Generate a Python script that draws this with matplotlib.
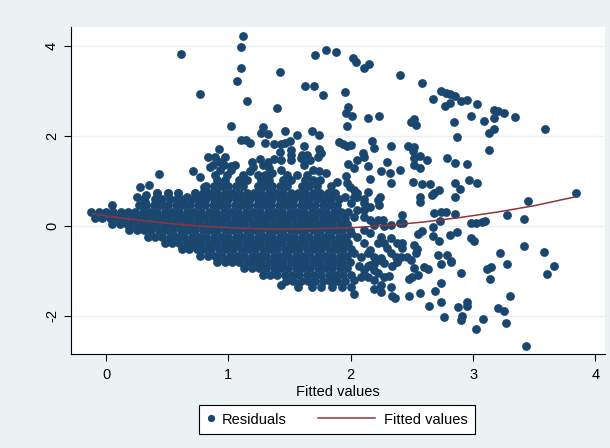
import numpy as np
import matplotlib
matplotlib.use('Agg')
from matplotlib import pyplot as plt
from matplotlib.lines import Line2D
from matplotlib.legend_handler import HandlerBase

plt.rcParams['font.family'] = ['Liberation Sans', 'DejaVu Sans']

# dense core of the cloud: residual level -> fitted values at that level
core_levels = [-1.36, -1.22, -1.08, -0.94, -0.80, -0.66, -0.52, -0.38, -0.24,
               -0.10, 0.04, 0.18, 0.32, 0.46, 0.60, 0.74, 0.88, 1.02, 1.13]
core_rows = [
    [1.57, 1.68, 1.76, 1.85],
    [1.47, 1.53, 1.59, 1.65, 1.71, 1.77, 1.83, 1.89, 1.95],
    [1.28, 1.34, 1.40, 1.46, 1.52, 1.58, 1.64, 1.70, 1.76, 1.82, 1.88, 1.94, 2.00],
    [1.13, 1.19, 1.25, 1.31, 1.37, 1.43, 1.49, 1.55, 1.61, 1.67, 1.73, 1.79, 1.85, 1.91, 1.97],
    [0.91, 0.97, 1.03, 1.09, 1.15, 1.21, 1.27, 1.33, 1.39, 1.45, 1.51, 1.57, 1.63, 1.69, 1.75,
     1.81, 1.87, 1.93, 1.99],
    [0.77, 0.83, 0.89, 0.95, 1.01, 1.07, 1.13, 1.19, 1.25, 1.31, 1.37, 1.43, 1.49, 1.55, 1.61,
     1.67, 1.73, 1.79, 1.85, 1.91, 1.97],
    [0.62, 0.68, 0.74, 0.80, 0.86, 0.92, 0.98, 1.04, 1.10, 1.16, 1.22, 1.28, 1.34, 1.40, 1.46,
     1.52, 1.58, 1.64, 1.70, 1.76, 1.82, 1.88, 1.94, 2.00],
    [0.48, 0.54, 0.60, 0.66, 0.72, 0.78, 0.84, 0.90, 0.96, 1.02, 1.08, 1.14, 1.20, 1.26, 1.32,
     1.38, 1.44, 1.50, 1.56, 1.62, 1.68, 1.74, 1.80, 1.86, 1.92, 1.98],
    [0.34, 0.40, 0.46, 0.52, 0.58, 0.64, 0.70, 0.76, 0.82, 0.88, 0.94, 1.00, 1.06, 1.12, 1.18,
     1.24, 1.30, 1.36, 1.42, 1.48, 1.54, 1.60, 1.66, 1.72, 1.78, 1.84, 1.90, 1.96],
    [0.19, 0.25, 0.31, 0.37, 0.43, 0.49, 0.55, 0.61, 0.67, 0.73, 0.79, 0.85, 0.91, 0.97, 1.03,
     1.09, 1.15, 1.21, 1.27, 1.33, 1.39, 1.45, 1.51, 1.57, 1.63, 1.69, 1.75, 1.81, 1.87, 1.93, 1.99],
    [0.05, 0.11, 0.17, 0.23, 0.29, 0.35, 0.41, 0.47, 0.53, 0.59, 0.65, 0.71, 0.77, 0.83, 0.89,
     0.95, 1.01, 1.07, 1.13, 1.19, 1.25, 1.31, 1.37, 1.43, 1.49, 1.55, 1.61, 1.67, 1.73, 1.79,
     1.85, 1.91, 1.97],
    [-0.09, -0.03, 0.03, 0.09, 0.15, 0.21, 0.27, 0.33, 0.39, 0.45, 0.51, 0.57, 0.63, 0.69, 0.75,
     0.81, 0.87, 0.93, 0.99, 1.05, 1.11, 1.17, 1.23, 1.29, 1.35, 1.41, 1.47, 1.53, 1.59, 1.65,
     1.71, 1.77, 1.83, 1.89, 1.95],
    [-0.12, -0.06, 0.00, 0.06, 0.12, 0.18, 0.24, 0.30, 0.36, 0.42, 0.48, 0.54, 0.60, 0.66, 0.72,
     0.78, 0.84, 0.90, 0.96, 1.02, 1.08, 1.14, 1.20, 1.26, 1.32, 1.38, 1.44, 1.50, 1.56, 1.62,
     1.68, 1.74, 1.80, 1.86, 1.92, 1.98],
    [0.05, 0.27, 0.33, 0.39, 0.45, 0.51, 0.57, 0.63, 0.69, 0.75, 0.81, 0.87, 0.93, 0.99, 1.05,
     1.11, 1.17, 1.23, 1.29, 1.35, 1.41, 1.47, 1.53, 1.59, 1.65, 1.71, 1.77, 1.83, 1.89],
    [0.31, 0.40, 0.46, 0.52, 0.58, 0.64, 0.70, 0.76, 0.82, 0.88, 0.94, 1.00, 1.06, 1.12, 1.18,
     1.24, 1.30, 1.36, 1.42, 1.48, 1.54, 1.60, 1.66, 1.72, 1.78, 1.84, 1.90],
    [0.42, 0.51, 0.59, 0.73, 0.79, 0.85, 0.91, 0.97, 1.03, 1.09, 1.15, 1.21, 1.27, 1.33, 1.39,
     1.45, 1.51, 1.57, 1.63, 1.69, 1.75, 1.81, 1.87],
    [0.82, 0.88, 0.94, 1.00, 1.06, 1.12, 1.24, 1.30, 1.36, 1.42, 1.48, 1.60, 1.66, 1.72, 1.84],
    [0.91, 0.97, 1.09, 1.15, 1.27, 1.33, 1.45, 1.51, 1.63, 1.69, 1.75],
    [0.99, 1.12, 1.24, 1.30, 1.48, 1.56, 1.64],
]

# scattered residuals above the core
upper_x = [1.12, 1.10, 0.61, 1.10, 1.42, 1.07, 1.63, 1.70, 0.77, 1.77, 1.15, 1.40, 1.71, 1.80,
           1.88, 1.02, 1.28, 1.27, 1.32, 1.46, 1.56, 1.68, 1.74, 1.10, 1.14, 1.18, 1.30, 1.37,
           1.43, 1.46, 1.50, 1.62, 1.74, 1.76, 1.90, 0.92, 0.83, 0.89, 0.97, 1.42, 1.51, 1.60,
           0.43, 0.28, 0.35, 0.71, 0.77, 0.85, 0.93, 0.96, 1.02, 1.05, 1.19, 1.20, 1.26, 1.32,
           1.37, 1.43, 1.02, 0.93, 1.18, 1.28, 1.43, 1.36, 1.33, 1.51, 1.51, 1.59, 1.62, 1.67,
           1.64, 1.73, 1.75, 1.69, 1.74, 1.80, 1.89, 1.96, 1.99, 1.95, 0.87, 0.89, 0.25, 0.32,
           0.33, 0.42, 0.51, 0.59, 0.66, 0.73, 0.80, 1.62]
upper_y = [4.22, 3.98, 3.82, 3.50, 3.41, 3.21, 3.11, 3.11, 2.93, 2.90, 2.78, 2.63, 3.80, 3.91,
           3.87, 2.22, 2.20, 2.06, 2.04, 2.10, 2.03, 2.12, 2.01, 1.90, 1.90, 1.84, 1.85, 1.81,
           1.82, 1.85, 1.88, 1.78, 1.70, 1.63, 1.87, 1.70, 1.54, 1.53, 1.53, 1.64, 1.69, 1.57,
           1.16, 0.87, 0.92, 1.22, 1.08, 1.32, 1.43, 1.36, 1.34, 1.36, 1.43, 1.32, 1.48, 1.41,
           1.48, 1.47, 1.24, 1.24, 1.21, 1.36, 1.24, 1.17, 1.28, 1.58, 1.47, 1.50, 1.36, 1.47,
           1.58, 1.54, 1.65, 1.24, 1.21, 1.17, 0.98, 1.10, 0.87, 0.65, 1.36, 1.13, 0.65, 0.54,
           0.69, 0.73, 0.73, 0.73, 0.65, 0.73, 0.87, 1.54]

# scattered residuals right of the core
right_x = [2.02, 2.04, 2.11, 2.15, 2.40, 2.58, 1.95, 1.98, 1.96, 2.01, 1.97, 2.14, 2.23, 2.67,
           2.74, 2.78, 2.81, 2.85, 2.90, 2.95, 3.03, 2.77, 2.81, 2.98, 2.49, 2.52, 2.53, 2.84,
           2.87, 3.17, 3.20, 3.25, 3.09, 3.17, 3.34, 3.17, 3.13, 3.59, 3.13, 1.94, 1.97, 2.00,
           2.17, 2.19, 2.33, 2.47, 2.52, 2.51, 2.10, 2.11, 2.52, 2.57, 2.62, 2.79, 2.85, 2.95,
           1.98, 2.05, 2.03, 2.14, 2.30, 2.25, 2.32, 2.40, 2.52, 2.57, 1.97, 2.16, 2.33, 2.51,
           2.58, 2.65, 2.85, 2.97, 3.03, 2.89, 2.85, 3.45, 3.84, 2.85, 3.28, 3.42, 2.98, 3.02,
           3.07, 3.10, 2.87, 2.98, 3.01, 3.42, 3.58, 3.22, 3.28, 3.66, 2.82, 3.11, 3.15, 3.14,
           2.90, 3.60, 3.30, 2.88, 2.95, 2.95, 3.20, 3.25, 2.91, 2.90, 3.08, 3.27, 3.02, 3.43,
           2.72, 2.66, 2.68, 2.57, 2.57, 2.22, 2.24, 2.11, 2.05, 2.03, 2.00, 2.42, 2.40, 2.43,
           2.68, 2.74, 2.78, 2.73, 2.58, 2.55, 2.67, 2.67, 2.72, 2.81, 2.71, 2.74, 2.79, 2.82,
           2.53, 2.54, 2.52, 2.46, 2.49, 2.42, 2.42, 2.37, 2.33, 2.60, 2.63, 2.52, 2.55, 2.48,
           2.50, 2.57, 2.48, 2.69, 2.74, 2.64, 2.74, 2.76, 2.31, 2.25, 2.34, 2.36, 2.33, 2.27,
           2.22, 2.19, 2.23, 2.16, 2.11, 2.03, 1.93, 1.84, 1.43, 2.05, 2.03, 2.11, 2.14, 2.23,
           2.16, 2.11, 2.05, 2.03, 2.11, 2.16, 2.22, 2.26, 2.19, 2.27, 2.33, 2.33, 2.38, 2.41,
           2.38, 2.34, 2.27, 2.25, 2.19, 2.14, 2.08, 2.03, 2.07, 2.14, 2.19, 2.19, 2.14, 2.08,
           2.03, 2.00, 2.19, 2.25, 2.16, 2.11, 2.05, 2.00, 2.22, 2.27, 2.30, 2.11, 2.16, 2.25]
right_y = [3.73, 3.64, 3.52, 3.60, 3.36, 3.17, 2.98, 2.65, 2.52, 2.44, 2.22, 2.40, 2.44, 2.81,
           3.00, 2.96, 2.93, 2.89, 2.78, 2.80, 2.72, 2.66, 2.73, 2.44, 2.31, 2.37, 2.24, 2.30,
           1.98, 2.58, 2.55, 2.50, 2.34, 2.40, 2.41, 2.16, 2.06, 2.16, 1.69, 1.82, 1.78, 1.79,
           1.89, 1.74, 1.78, 1.78, 1.76, 1.67, 1.61, 1.53, 1.51, 1.56, 1.47, 1.50, 1.39, 1.38,
           1.38, 1.47, 1.29, 1.34, 1.43, 1.21, 1.18, 1.24, 1.36, 1.28, 0.95, 1.04, 0.96, 0.97,
           0.94, 0.93, 0.96, 1.02, 0.96, 0.82, 0.65, 0.56, 0.73, 0.27, 0.24, 0.16, 0.06, 0.07,
           0.09, 0.12, -0.13, -0.27, -0.33, -0.45, -0.57, -0.60, -0.84, -0.88, -0.79, -0.95, -0.91, -1.17,
           -1.04, -1.06, -1.55, -1.81, -1.70, -1.78, -1.82, -1.88, -1.99, -2.10, -2.06, -2.15, -2.29, -2.66,
           0.80, 0.69, 0.73, 0.64, 0.54, 0.58, 0.65, 0.50, 0.65, 0.80, 0.50, 0.24, 0.07, 0.07,
           0.28, 0.30, 0.30, 0.12, -0.11, -0.18, -0.03, -0.22, -0.33, -0.20, -0.65, -0.85, -0.65, -0.77,
           -0.59, -0.52, -0.42, -0.70, -0.76, -0.38, -0.50, -0.68, -0.59, -0.91, -0.96, -0.94, -1.09, -1.18,
           -1.13, -1.48, -1.56, -1.44, -1.26, -1.78, -1.70, -2.03, -1.11, -1.31, -1.56, -1.61, -1.36, -1.13,
           -1.05, -0.85, -0.76, -0.87, -0.98, -1.52, -1.36, -1.18, -1.31, 0.73, 0.64, 0.59, 0.76, 0.47,
           0.43, 0.36, 0.36, 0.21, 0.21, 0.13, 0.13, 0.13, 0.02, -0.01, 0.02, -0.27, -0.38, -0.68,
           -0.79, -0.90, -0.83, -0.72, -0.68, -0.61, -0.68, -0.61, -0.90, -0.90, -0.98, -1.20, -1.13, -1.13,
           -1.20, -1.35, -1.41, -1.46, -0.53, -0.38, -0.24, -0.16, -0.38, -0.38, -0.50, -0.09, -0.16, -0.24]

# fitted curve
curve_x = [-0.11, 0.2, 0.5, 0.8, 1.1, 1.4, 1.7, 2.0, 2.3, 2.6, 2.9, 3.2, 3.5, 3.84]
curve_y = [0.27, 0.15, 0.06, -0.01, -0.05, -0.07, -0.06, -0.04, 0.01, 0.09, 0.19, 0.31, 0.45, 0.65]

navy = '#1A476F'
maroon = '#90353B'
bg = '#EAF2F3'

core_x = []
core_y = []
for lvl, row in zip(core_levels, core_rows):
    core_x += row
    core_y += [lvl] * len(row)

res_x = np.array(core_x + upper_x + right_x)
res_y = np.array(core_y + upper_y + right_y)


class DotKey(HandlerBase):
    def create_artists(self, legend, orig_handle, xdescent, ydescent,
                       width, height, fontsize, trans):
        y = (height - ydescent) / 2
        d = Line2D([width / 2 - xdescent], [y], ls='none', marker='o',
                   markersize=5.2, color=navy, mew=0)
        d.set_transform(trans)
        return [d]


class LongLineKey(HandlerBase):
    def create_artists(self, legend, orig_handle, xdescent, ydescent,
                       width, height, fontsize, trans):
        y = (height - ydescent) / 2
        x1 = width - xdescent - 0.13 * fontsize
        l = Line2D([x1 - 3.93 * fontsize, x1], [y, y], color=maroon, lw=1.1)
        l.set_transform(trans)
        return [l]


fig = plt.figure(figsize=(6.1, 4.48), dpi=100, facecolor=bg)
ax = fig.add_axes([70.7 / 610, (448 - 354.3) / 448, (605 - 70.7) / 610, (354.3 - 27) / 448])
ax.set_facecolor('white')

ax.scatter(res_x, res_y, s=40, c=navy, linewidths=0, zorder=2)
ax.plot(curve_x, curve_y, color=maroon, lw=1.1, zorder=3)

ax.set_xlim(-0.289, 4.078)
ax.set_ylim(-2.851, 4.42)
ax.set_xticks([0, 1, 2, 3, 4])
ax.set_yticks([-2, 0, 2, 4])
ax.set_yticklabels(['-2', '0', '2', '4'], rotation=90, va='center')
ax.yaxis.grid(True, color=bg, lw=1.0)
ax.set_axisbelow(True)
for s in ['top', 'right']:
    ax.spines[s].set_visible(False)
for s in ['left', 'bottom']:
    ax.spines[s].set_linewidth(0.8)
ax.tick_params(direction='out', length=5, width=0.8, labelsize=10.5)
ax.tick_params(axis='x', pad=5)
ax.tick_params(axis='y', pad=3.5)
ax.set_xlabel('Fitted values', fontsize=10.5, labelpad=2)

dot = Line2D([], [], ls='none', marker='o', color=navy)
line = Line2D([], [], color=maroon)
leg = fig.legend([dot, line], ['Residuals', 'Fitted values'], loc='center',
                 bbox_to_anchor=(337 / 610, 1 - 419.5 / 448), ncol=2,
                 frameon=True, fancybox=False, edgecolor='black', facecolor='white',
                 framealpha=1, fontsize=10.5, handlelength=0.6, handletextpad=0.45,
                 columnspacing=5.6, borderpad=0.5,
                 handler_map={dot: DotKey(), line: LongLineKey()})
leg.get_frame().set_linewidth(0.8)

plt.savefig('out.png', dpi=100, facecolor=bg)
